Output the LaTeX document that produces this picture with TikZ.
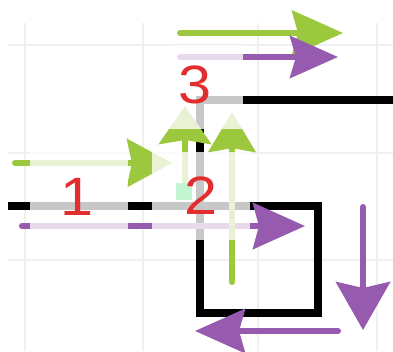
\documentclass[tikz,border=0pt]{standalone}
\usepackage{fontspec}
\setmainfont{Liberation Sans}
\usetikzlibrary{arrows.meta}
\definecolor{grn}{RGB}{155,200,60}
\definecolor{pur}{RGB}{150,90,175}
\definecolor{lbl}{RGB}{225,45,45}
\definecolor{gridc}{RGB}{240,240,240}
\definecolor{mint}{RGB}{195,245,210}
\begin{document}
\begin{tikzpicture}[x=1pt,y=-1pt,
  gridline/.style={gridc,line width=1.5pt},
  wall/.style={line width=8pt,line join=miter},
  garrow/.style={grn,line width=6pt,line cap=round},
  parrow/.style={pur,line width=6pt,line cap=round},
  fade/.style={fill=white,fill opacity=0.78},
  num/.style={lbl,font=\fontsize{54}{54}\selectfont,inner sep=0pt,xscale=1.1}]
\useasboundingbox (0,0) rectangle (393,351);
% grid
\foreach \x in {25,143,258,377} \draw[gridline] (\x,23) -- (\x,351);
\foreach \y in {45,153,260} \draw[gridline] (8,\y) -- (393,\y);
% walls
\draw[wall] (8,206) -- (318,206) -- (318,313) -- (200,313) -- (200,100) -- (393,100);
% arrows
\coordinate (g1s) at (180,33);  \coordinate (g1e) at (343,33);
\coordinate (p1s) at (180,57);  \coordinate (p1e) at (338,57);
\coordinate (g2s) at (15,163);  \coordinate (g2e) at (172,163);
\coordinate (p2s) at (22,226);  \coordinate (p2e) at (305,226);
\coordinate (g3s) at (185,192); \coordinate (g3e) at (185,106);
\coordinate (g4s) at (232,282); \coordinate (g4e) at (232,112);
\coordinate (p3s) at (363,207); \coordinate (p3e) at (363,330);
\coordinate (p4s) at (338,331); \coordinate (p4e) at (195,331);
\draw[garrow,-{Stealth[length=51pt,width=45pt,inset=6pt]}] (g1s) -- (g1e);
\draw[parrow,-{Stealth[length=48pt,width=42pt,inset=6pt]}] (p1s) -- (p1e);
\draw[garrow,-{Stealth[length=45pt,width=48pt,inset=5pt]}] (g2s) -- (g2e);
\draw[parrow,-{Stealth[length=52pt,width=46pt,inset=6pt]}] (p2s) -- (p2e);
\draw[garrow,-{Stealth[length=38pt,width=52pt,inset=4pt]}] (g3s) -- (g3e);
\draw[garrow,-{Stealth[length=40pt,width=47pt,inset=4pt]}] (g4s) -- (g4e);
\draw[parrow,-{Stealth[length=48pt,width=54pt,inset=6pt]}] (p3s) -- (p3e);
\draw[parrow,-{Stealth[length=50pt,width=44pt,inset=6pt]}] (p4s) -- (p4e);
% faded regions
\fill[fade] (30,150) rectangle (128,236);
\fill[fade] (152,152) rectangle (250,240);
\fill[fade] (152,95) rectangle (243,129);
\fill[fade] (175,45) rectangle (243,70);
\fill[mint] (176,183) rectangle (192,200);
% labels
\node[num] (n1) at (77,197) {1};
\node[num] (n2) at (201,196) {2};
\node[num] (n3) at (195,85) {3};
\end{tikzpicture}
\end{document}
